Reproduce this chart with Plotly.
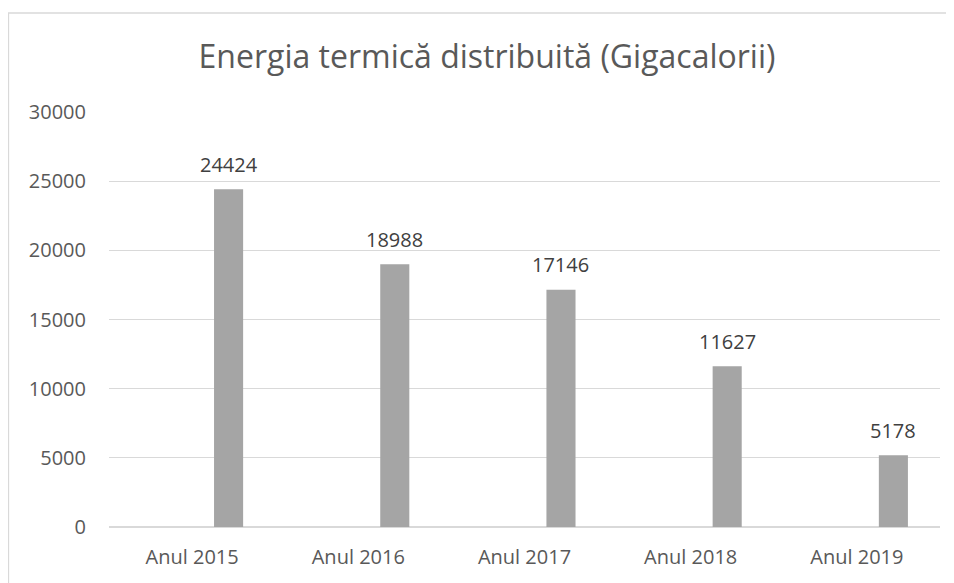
import plotly.graph_objects as go

categories = ["Anul 2015", "Anul 2016", "Anul 2017", "Anul 2018", "Anul 2019"]
values = [24424, 18988, 17146, 11627, 5178]
y_ticks = [0, 5000, 10000, 15000, 20000, 25000, 30000]
title_text = "Energia termică distribuită (Gigacalorii)"

FONT = "Open Sans"
TXT = "#595959"
GRID = "#D9D9D9"
BAR = "#A5A5A5"

bar_width = 0.175
bar_offset = 0.132

# page body has an 8px margin: figure occupies page x/y from 8
W, H = 946, 575
L, R, T, B = 101, 14, 104, 56
PW, PH = W - L - R, H - T - B

fig = go.Figure()
fig.add_trace(go.Bar(
    x=categories, y=values,
    marker=dict(color=BAR, line=dict(width=0)),
    width=bar_width, offset=bar_offset,
    hoverinfo="x+y",
))

for i, v in enumerate(values):
    fig.add_annotation(
        x=i + bar_offset + bar_width / 2, y=v, xref="x", yref="y",
        text=str(v), showarrow=False, yanchor="middle", yshift=25,
        font=dict(family=FONT, size=20, color="#404040"),
    )

fig.add_shape(type="rect", xref="paper", yref="paper",
              x0=(0.5 - L) / PW, x1=(945 - L) / PW,
              y0=(-40 - B) / PH, y1=(H - 5 - B) / PH,
              line=dict(color=GRID, width=1.3), fillcolor="rgba(0,0,0,0)",
              layer="below")

fig.update_layout(
    width=W, height=H,
    margin=dict(l=L, r=R, t=T, b=B, autoexpand=False),
    paper_bgcolor="white", plot_bgcolor="white",
    showlegend=False,
    title=dict(text=title_text, x=479 / W, xanchor="center",
               y=1 - 49 / H, yanchor="middle", yref="container",
               font=dict(family=FONT, size=32, color=TXT)),
    xaxis=dict(type="category", range=[-0.5, 4.5], showgrid=False,
               showline=False, ticks="", zeroline=False,
               ticklabelstandoff=16,
               tickfont=dict(family=FONT, size=20, color=TXT)),
    yaxis=dict(range=[0, 30000], tickvals=y_ticks, tickformat="d",
               showgrid=True,
               gridcolor=GRID, gridwidth=1.3, zeroline=True,
               zerolinecolor=GRID, zerolinewidth=1.5, showline=False,
               ticks="", ticklabelstandoff=22,
               tickfont=dict(family=FONT, size=20, color=TXT)),
)

fig.write_html("out.html")
